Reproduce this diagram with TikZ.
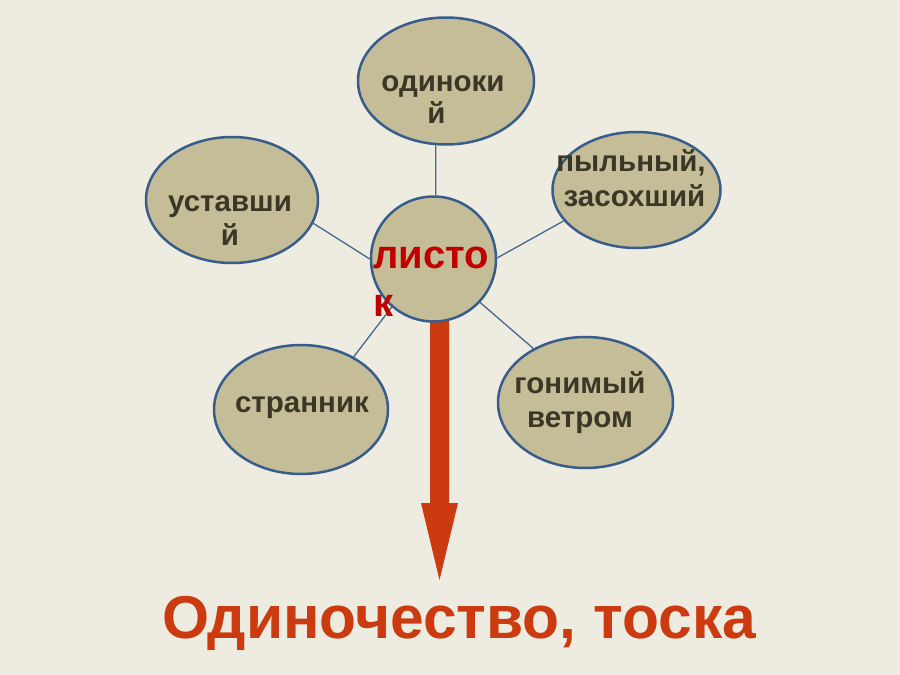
\documentclass[tikz,border=0pt]{standalone}
\usepackage{fontspec}
\setmainfont{Liberation Sans}
\usetikzlibrary{shapes.geometric}
\definecolor{bgc}{HTML}{EEECE1}
\definecolor{tanc}{HTML}{C4BD97}
\definecolor{bordc}{HTML}{385D8A}
\definecolor{linkc}{HTML}{46688F}
\definecolor{txtc}{HTML}{3B3726}
\definecolor{redc}{HTML}{C00000}
\definecolor{arrowc}{HTML}{CC3A10}
\begin{document}
\begin{tikzpicture}[x=1pt,y=-1pt,
  bubble/.style={ellipse, draw=bordc, line width=2.5pt, fill=tanc, inner sep=0pt},
  lbl/.style={anchor=base, font=\bfseries\fontsize{29.5}{34}\selectfont, text=txtc, inner sep=0pt},
  centre/.style={anchor=base west, font=\bfseries\fontsize{40}{48}\selectfont, text=redc, inner sep=0pt},
  link/.style={draw=linkc, line width=1.3pt},
  bigarrow/.style={fill=arrowc},
  result/.style={anchor=base, font=\bfseries\fontsize{60.5}{70}\selectfont, text=arrowc, inner sep=0pt}]
\fill[bgc] (0,0) rectangle (900,675);
\useasboundingbox (0,0) rectangle (900,675);

% arrow
\fill[bigarrow] (430,320) -- (449,320) -- (449,503) -- (458,503) -- (439.5,580) -- (421,503) -- (430,503) -- cycle;

% bubbles
\node[bubble, minimum width=176pt, minimum height=127pt] (top) at (446,81) {};
\node[bubble, minimum width=172pt, minimum height=126pt] (left) at (232,200) {};
\node[bubble, minimum width=168pt, minimum height=116pt] (right) at (636.5,190) {};
\node[bubble, minimum width=174pt, minimum height=129pt] (ll) at (301,409.5) {};
\node[bubble, minimum width=175pt, minimum height=131pt] (lr) at (585.5,402.5) {};
\node[circle, draw=bordc, line width=2.5pt, fill=tanc, inner sep=0pt, minimum size=125pt] (c) at (433.5,259) {};

% connectors
\draw[link] (c.88) -- (top.-99);
\draw[link] (c.180) -- (left.-16);
\draw[link] (c.229) -- (ll.45);
\draw[link] (c.1) -- (right.203);
\draw[link] (c.-43) -- (lr.134);

% texts
\node[lbl] (t1) at (443,91) {одиноки};
\node[lbl] (t2) at (436.5,123) {й};
\node[lbl] (l1) at (230,211) {уставши};
\node[lbl] (l2) at (230,245) {й};
\node[lbl] (r1) at (631,171) {пыльный,};
\node[lbl] (r2) at (634.5,206) {засохший};
\node[lbl] (s1) at (302,412) {странник};
\node[lbl] (g1) at (580,393) {гонимый};
\node[lbl] (g2) at (580,427) {ветром};
\node[centre] (c1) at (373,268) {листо};
\node[centre] (c2) at (373,316) {к};

\node[result] (res) at (459,638) {Одиночество, тоска};
\end{tikzpicture}
\end{document}
